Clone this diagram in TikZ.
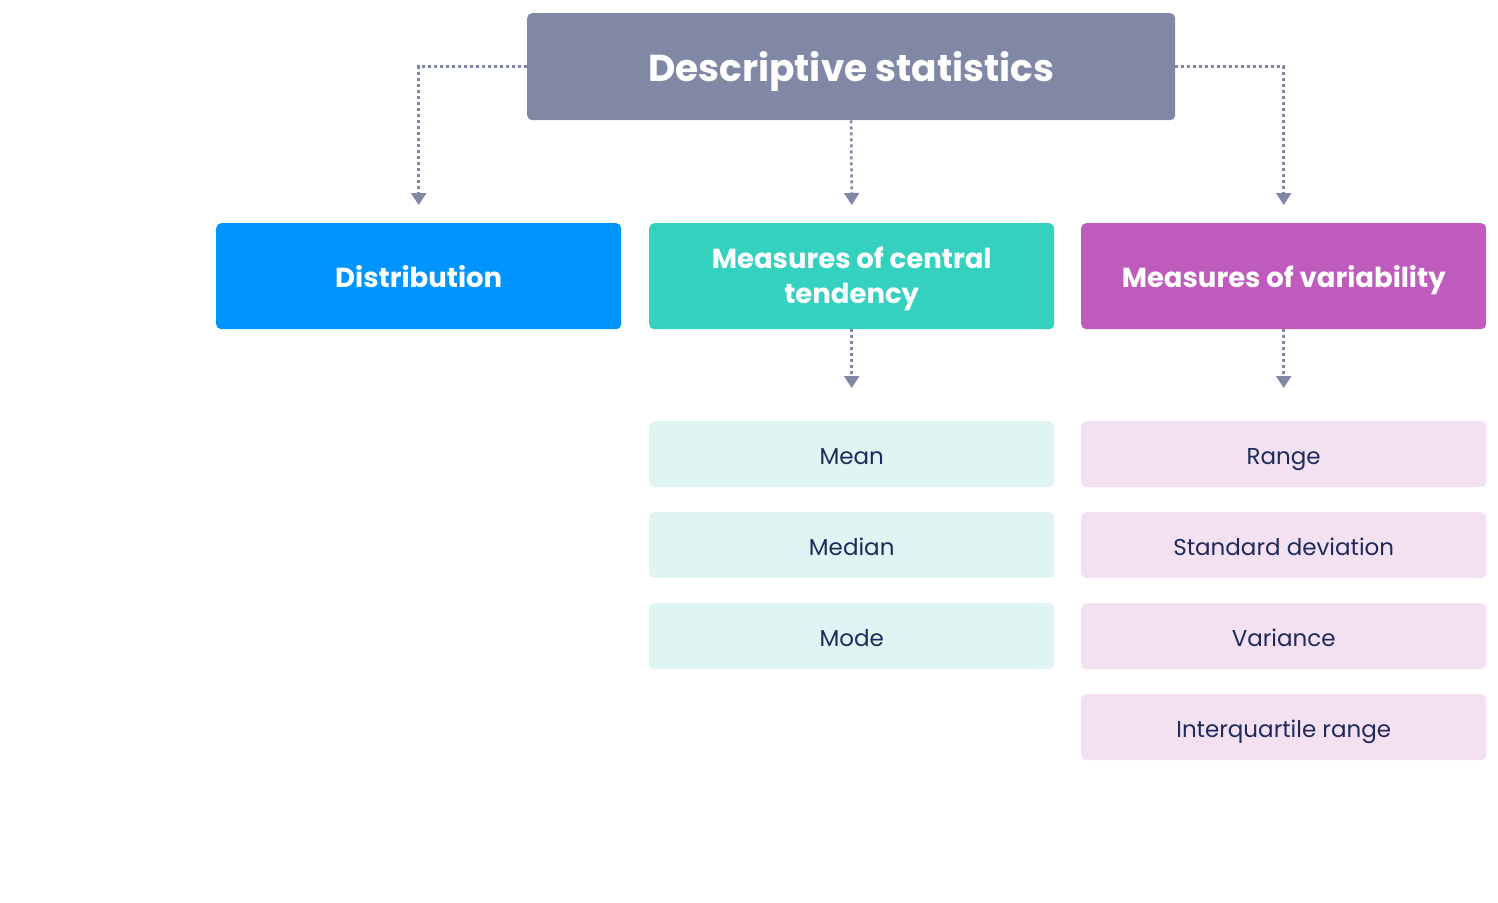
\documentclass[tikz,border=0pt]{standalone}
\usepackage{fontspec}
\setmainfont{Poppins}
\usetikzlibrary{arrows.meta}
\definecolor{titlec}{HTML}{8088A5}
\definecolor{distc}{HTML}{0094FF}
\definecolor{centc}{HTML}{34D1BF}
\definecolor{varc}{HTML}{BE5BBD}
\definecolor{centl}{HTML}{E0F5F3}
\definecolor{varl}{HTML}{F3E1F2}
\definecolor{navy}{HTML}{1F2A5C}
\definecolor{linec}{HTML}{7F87A5}
\tikzset{
  box/.style={rounded corners=5pt, inner sep=0pt, align=center, anchor=north west},
  bigfont/.style={text=white, font=\fontsize{27.5}{35}\selectfont\bfseries},
  bigbox/.style={box, bigfont, minimum width=405pt, minimum height=106pt},
  bigone/.style={bigbox, text height=23.3pt, text depth=0pt},
  smallbox/.style={box, text height=20.1pt, text depth=0pt, minimum width=405pt, minimum height=66pt, text=navy, font=\fontsize{23}{28}\selectfont},
  conn/.style={draw=linec, line width=2.5pt, dash pattern=on 3pt off 3pt, -{Triangle[length=12pt,width=15pt,fill=linec]}},
}
\begin{document}
\begin{tikzpicture}[x=1pt,y=-1pt]
\useasboundingbox (0,0) rectangle (1498,902);
\node[box, text height=30.2pt, text depth=0pt, fill=titlec, minimum width=648pt, minimum height=107pt, text=white, font=\fontsize{37.5}{44}\selectfont\bfseries] (title) at (527,13) {Descriptive statistics};
\node[bigone, fill=distc] (dist) at (216,223) {Distribution};
\node[bigbox, fill=centc, label={[bigfont, align=center, yshift=-3pt]center:Measures of central\\tendency}] (cent) at (649,223) {};
\node[bigone, fill=varc] (var) at (1081,223) {Measures of variability};
\node[smallbox, fill=centl] (mean) at (649,421) {Mean};
\node[smallbox, fill=centl] (median) at (649,512) {Median};
\node[smallbox, fill=centl] (mode) at (649,603) {Mode};
\node[smallbox, fill=varl] (range) at (1081,421) {Range};
\node[smallbox, fill=varl] (sd) at (1081,512) {Standard deviation};
\node[smallbox, fill=varl] (variance) at (1081,603) {Variance};
\node[smallbox, fill=varl] (iqr) at (1081,694) {Interquartile range};
\coordinate (t1) at (dist.north |- 0,205);
\coordinate (t2) at (cent.north |- 0,205);
\coordinate (t3) at (var.north |- 0,205);
\coordinate (t4) at (cent.south |- 0,388);
\coordinate (t5) at (var.south |- 0,388);
\draw[conn] (title.west) -| (t1);
\draw[conn] (title.south) -- (t2);
\draw[conn] (title.east) -| (t3);
\draw[conn] (cent.south) -- (t4);
\draw[conn] (var.south) -- (t5);
\end{tikzpicture}
\end{document}
